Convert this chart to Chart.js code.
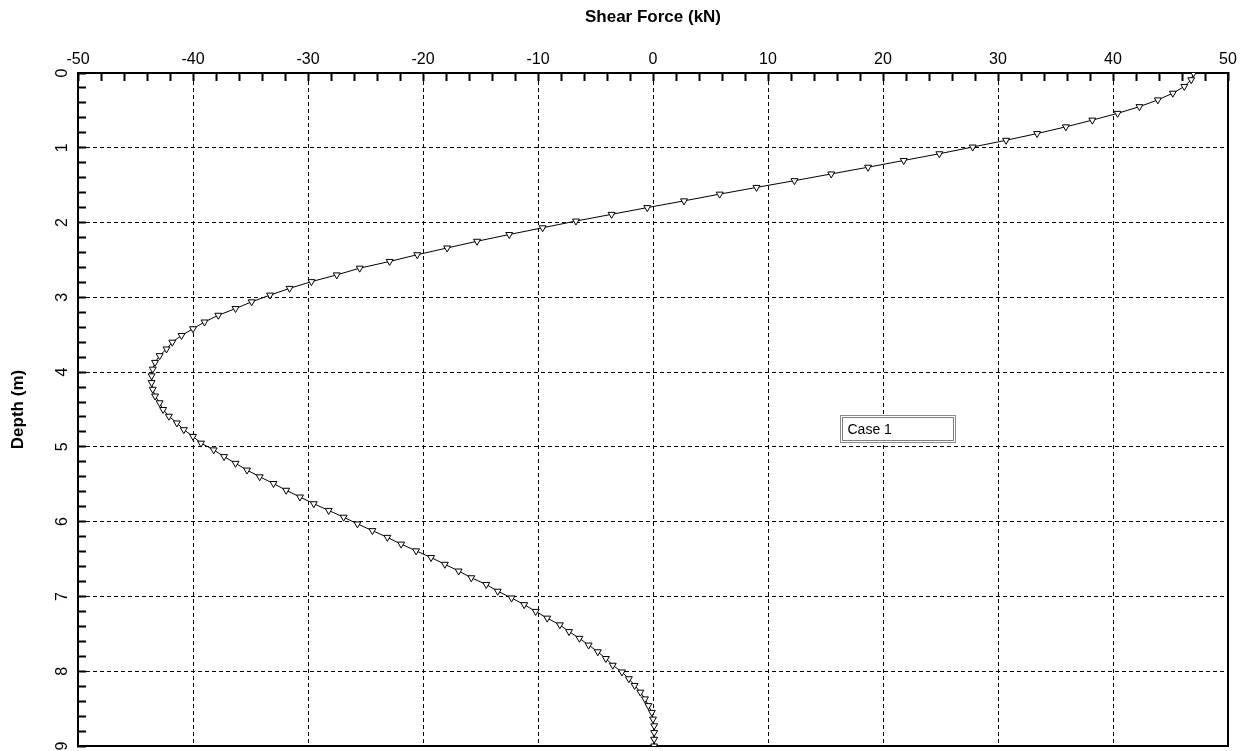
<!DOCTYPE html>
<html>
<head>
<meta charset="utf-8">
<script src="https://cdn.jsdelivr.net/npm/chart.js@4.4.1/dist/chart.umd.min.js"></script>
<style>
	html, body { margin: 0; padding: 0; background: #fff; }
	#wrap { width: 1246px; height: 751px; }
</style>
</head>
<body>
<div id="wrap"><canvas id="myChart" width="1246" height="751"></canvas></div>
<script>
// depth of each output point (m)
const depths = [
	0, 0.09, 0.18, 0.27, 0.36, 0.45, 0.54, 0.63, 0.72, 0.81,
	0.9, 0.99, 1.08, 1.17, 1.26, 1.35, 1.44, 1.53, 1.62, 1.71,
	1.8, 1.89, 1.98, 2.07, 2.16, 2.25, 2.34, 2.43, 2.52, 2.61,
	2.7, 2.79, 2.88, 2.97, 3.06, 3.15, 3.24, 3.33, 3.42, 3.51,
	3.6, 3.69, 3.78, 3.87, 3.96, 4.05, 4.14, 4.23, 4.32, 4.41,
	4.5, 4.59, 4.68, 4.77, 4.86, 4.95, 5.04, 5.13, 5.22, 5.31,
	5.4, 5.49, 5.58, 5.67, 5.76, 5.85, 5.94, 6.03, 6.12, 6.21,
	6.3, 6.39, 6.48, 6.57, 6.66, 6.75, 6.84, 6.93, 7.02, 7.11,
	7.2, 7.29, 7.38, 7.47, 7.56, 7.65, 7.74, 7.83, 7.92, 8.01,
	8.1, 8.19, 8.28, 8.37, 8.46, 8.55, 8.64, 8.73, 8.82, 8.91,
	9.0
];

// shear force (kN), Case 1
const shearCase1 = [
	47.0, 46.8, 46.2, 45.2, 43.9, 42.3, 40.4, 38.2, 35.9, 33.4,
	30.7, 27.8, 24.9, 21.8, 18.7, 15.5, 12.3, 9.0, 5.8, 2.7,
	-0.5, -3.6, -6.7, -9.6, -12.5, -15.3, -17.9, -20.5, -22.9, -25.5,
	-27.5, -29.7, -31.6, -33.3, -34.9, -36.3, -37.8, -39.0, -40.0, -41.0,
	-41.8, -42.3, -42.9, -43.3, -43.5, -43.6, -43.6, -43.5, -43.3, -42.9,
	-42.6, -42.1, -41.4, -40.8, -40.0, -39.3, -38.2, -37.3, -36.3, -35.3,
	-34.2, -33.0, -31.9, -30.7, -29.5, -28.2, -26.9, -25.7, -24.4, -23.1,
	-21.9, -20.6, -19.3, -18.1, -16.9, -15.8, -14.5, -13.5, -12.3, -11.2,
	-10.2, -9.2, -8.1, -7.3, -6.4, -5.6, -4.8, -4.1, -3.5, -2.7,
	-2.1, -1.6, -1.1, -0.7, -0.4, -0.1, 0.0, 0.1, 0.1, 0.1,
	0.1
];

const xTickLabels = [-50, -40, -30, -20, -10, 0, 10, 20, 30, 40, 50];
const yTickLabels = [0, 1, 2, 3, 4, 5, 6, 7, 8, 9];

function findLabel(labels, v){
	return labels.find(t => Math.abs(t - v) < 1e-6);
}

// dashed grid only on the labelled ticks, not on the frame
function gridColor(labels){
	return function(ctx){
		if (!ctx.tick) return 'rgba(0,0,0,0)';
		const i = labels.findIndex(t => Math.abs(t - ctx.tick.value) < 1e-6);
		return (i > 0 && i < labels.length - 1) ? '#000' : 'rgba(0,0,0,0)';
	};
}

// boxed legend inside the plot
const caseLegend = {
	id: 'caseLegend',
	afterDraw(chart, args, opts){
		const ctx = chart.ctx;
		const left = Math.round(chart.scales.x.getPixelForValue(opts.x)) + 0.5;
		const top = Math.round(chart.scales.y.getPixelForValue(opts.y)) + 0.5;
		ctx.save();
		ctx.fillStyle = '#fff';
		ctx.fillRect(left, top, opts.width, opts.height);
		ctx.lineWidth = 1;
		ctx.strokeStyle = '#8c8c8c';
		ctx.strokeRect(left, top, opts.width, opts.height);
		ctx.strokeStyle = '#000';
		ctx.setLineDash([1, 1]);
		ctx.strokeRect(left + 2, top + 2, opts.width - 4, opts.height - 4);
		ctx.setLineDash([]);
		ctx.fillStyle = '#000';
		ctx.font = '14px "Liberation Sans", Arial, sans-serif';
		ctx.textBaseline = 'middle';
		ctx.fillText(chart.data.datasets[0].label, left + 7, top + opts.height / 2 + 1);
		ctx.restore();
	}
};

function createChart(){
	var chart = document.getElementById('myChart');

	const points = depths.map((d, i) => ({x: shearCase1[i], y: d}));

	const font = {family: '"Liberation Sans", Arial, sans-serif', size: 16};
	const titleFont = {family: '"Liberation Sans", Arial, sans-serif', size: 17, weight: 'bold'};

	const config = {
		type: 'scatter',
		data: {
			datasets: [{
				label: 'Case 1',
				data: points,
				showLine: true,
				borderColor: '#000',
				borderWidth: 1,
				pointStyle: 'triangle',
				rotation: 180,
				pointRadius: 4,
				pointBackgroundColor: '#fff',
				pointBorderColor: '#000',
				pointBorderWidth: 1
			}]
		},
		options: {
			responsive: false,
			animation: false,
			devicePixelRatio: 1,
			layout: {padding: 0},
			plugins: {
				legend: {display: false},
				tooltip: {enabled: false},
				caseLegend: {x: 16.3, y: 4.57, width: 115, height: 27}
			},
			scales: {
				x: {
					type: 'linear',
					position: 'top',
					min: -50,
					max: 50,
					ticks: {
						stepSize: 2,
						autoSkip: false,
						maxRotation: 0,
						padding: 12,
						color: '#000',
						font: font,
						callback: v => {
							const t = findLabel(xTickLabels, v);
							return t === undefined ? '' : String(t);
						}
					},
					grid: {
						color: gridColor(xTickLabels),
						lineWidth: 1,
						tickLength: -8,
						tickColor: '#000',
						tickWidth: 2,
						tickBorderDash: []
					},
					border: {display: true, color: '#000', width: 2, dash: [4, 3]},
					title: {
						display: true,
						text: 'Shear Force (kN)',
						color: '#000',
						font: titleFont,
						padding: {top: 7, bottom: 0}
					},
					afterFit: s => { s.height = 73; s.paddingLeft = 0; s.paddingRight = 0; }
				},
				y: {
					type: 'linear',
					position: 'left',
					reverse: true,
					min: 0,
					max: 9,
					ticks: {
						stepSize: 0.2,
						autoSkip: false,
						minRotation: 90,
						maxRotation: 90,
						crossAlign: 'center',
						padding: 19,
						color: '#000',
						font: font,
						callback: v => {
							const t = findLabel(yTickLabels, v);
							return t === undefined ? '' : String(t);
						}
					},
					grid: {
						color: gridColor(yTickLabels),
						lineWidth: 1,
						tickLength: -8,
						tickColor: '#000',
						tickWidth: 2,
						tickBorderDash: []
					},
					border: {display: true, color: '#000', width: 2, dash: [4, 3]},
					title: {
						display: true,
						text: 'Depth (m)',
						color: '#000',
						font: titleFont,
						padding: {top: 8, bottom: 0}
					},
					afterFit: s => { s.width = 78; s.paddingTop = 0; s.paddingBottom = 0; }
				},
				// frame lines on the bottom and right
				x2: {
					type: 'linear',
					position: 'bottom',
					ticks: {display: false},
					grid: {display: false, drawTicks: false},
					border: {display: true, color: '#000', width: 2},
					afterFit: s => { s.height = 3; }
				},
				y2: {
					type: 'linear',
					position: 'right',
					ticks: {display: false},
					grid: {display: false, drawTicks: false},
					border: {display: true, color: '#000', width: 2},
					afterFit: s => { s.width = 18; }
				}
			}
		},
		plugins: [caseLegend]
	};

	const myChart = new Chart(chart, config);
}

document.addEventListener("DOMContentLoaded", createChart);
</script>
</body>
</html>
